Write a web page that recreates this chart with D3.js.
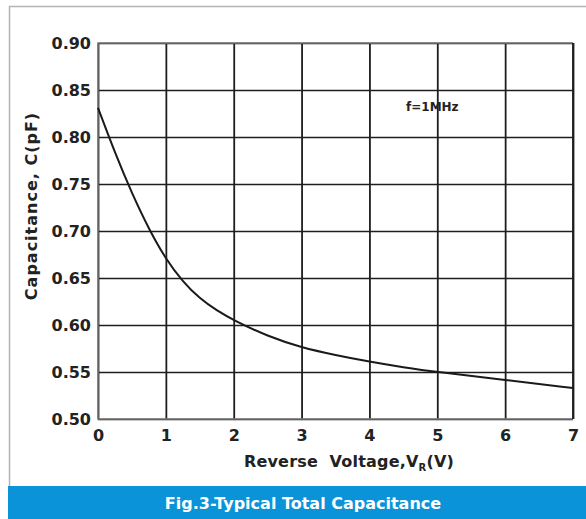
<!DOCTYPE html>
<html>
<head>
<meta charset="utf-8">
<script src="https://cdn.jsdelivr.net/npm/d3@7"></script>
<style>
    body { margin: 0; background: #fff; }
    text { font-family: "DejaVu Sans", sans-serif; font-weight: bold; }
</style>
</head>
<body>
<div id="chart"></div>
<script>
// values
const voltage = [0, 0.25, 0.5, 0.75, 1, 1.25, 1.5, 1.75, 2, 2.5, 3, 3.5, 4, 4.5, 5, 6, 7];
const capacitance = [0.831, 0.783, 0.740, 0.702, 0.670, 0.646, 0.628, 0.6155, 0.605, 0.588, 0.576, 0.568, 0.561, 0.555, 0.550, 0.5415, 0.533];
const xTicks = [0, 1, 2, 3, 4, 5, 6, 7];
const yTicks = [0.50, 0.55, 0.60, 0.65, 0.70, 0.75, 0.80, 0.85, 0.90];

function init() {
    let w = 586;
    let h = 519;
    const left = 98, right = 573, top = 43, bottom = 419;

    let svg = d3.select("#chart")
        .append("svg")
        .attr("width", w)
        .attr("height", h);

    // outer gray frame
    svg.append("path")
        .attr("d", "M9.5," + 486 + "V6.5H" + w)
        .attr("fill", "none")
        .attr("stroke", "#b4b4b4")
        .attr("stroke-width", 1.5);

    let x = d3.scaleLinear().domain([0, 7]).range([left, right]);
    let y = d3.scaleLinear().domain([0.5, 0.9]).range([bottom, top]);

    // grid via axes
    let gx = svg.append("g")
        .attr("transform", "translate(0," + bottom + ")")
        .call(d3.axisBottom(x).tickValues(xTicks).tickSize(-(bottom - top)).tickPadding(8).tickFormat(d3.format("d")));
    gx.select(".domain").remove();
    gx.selectAll(".tick line").attr("stroke", "#1e1e1e").attr("stroke-width", 1.8);
    gx.selectAll(".tick text")
        .attr("fill", "#222")
        .style("font-size", "16px")
        .attr("dy", "0.9em");

    let gy = svg.append("g")
        .attr("transform", "translate(" + left + ",0)")
        .call(d3.axisLeft(y).tickValues(yTicks).tickSize(-(right - left)).tickPadding(7).tickFormat(d3.format(".2f")));
    gy.select(".domain").remove();
    gy.selectAll(".tick line").attr("stroke", "#1e1e1e").attr("stroke-width", 1.5);
    gy.selectAll(".tick text")
        .attr("fill", "#222")
        .style("font-size", "16px");

    // lighter plot border on left, top, bottom
    svg.append("path")
        .attr("d", "M" + right + "," + top + "H" + left + "V" + bottom + "H" + right)
        .attr("fill", "none")
        .attr("stroke", "#7a7a7a")
        .attr("stroke-width", 1.5);
    svg.append("line")
        .attr("x1", right).attr("x2", right)
        .attr("y1", top).attr("y2", bottom)
        .attr("stroke", "#1e1e1e")
        .attr("stroke-width", 1.8);

    // curve
    let line = d3.line()
        .x(function (d, i) { return x(voltage[i]); })
        .y(function (d) { return y(d); })
        .curve(d3.curveBasis);

    svg.append("path")
        .datum(capacitance)
        .attr("d", line)
        .attr("fill", "none")
        .attr("stroke", "#1a1a1a")
        .attr("stroke-width", 2);

    svg.append("text")
        .attr("x", 406)
        .attr("y", 111)
        .attr("fill", "#222")
        .style("font-size", "12px")
        .text("f=1MHz");

    // axis titles
    let xt = svg.append("text")
        .attr("x", 349)
        .attr("y", 467)
        .attr("text-anchor", "middle")
        .attr("fill", "#222")
        .style("font-size", "16px")
        .style("letter-spacing", "0.2px")
        .attr("xml:space", "preserve");
    xt.append("tspan").text("Reverse  Voltage,V");
    xt.append("tspan").attr("dy", 4).style("font-size", "10px").text("R");
    xt.append("tspan").attr("dy", -4).text("(V)");

    svg.append("text")
        .attr("transform", "translate(37,206) rotate(-90)")
        .attr("text-anchor", "middle")
        .attr("fill", "#222")
        .style("font-size", "16px")
        .style("letter-spacing", "1px")
        .text("Capacitance, C(pF)");

    // caption banner
    svg.append("rect")
        .attr("x", 8)
        .attr("y", 486)
        .attr("width", w - 8)
        .attr("height", h - 486)
        .attr("fill", "#0a93d8");
    svg.append("text")
        .attr("x", 303)
        .attr("y", 509)
        .attr("text-anchor", "middle")
        .attr("fill", "#fff")
        .style("font-size", "16px")
        .text("Fig.3-Typical Total Capacitance");
}

window.addEventListener('load', init);
</script>
</body>
</html>
